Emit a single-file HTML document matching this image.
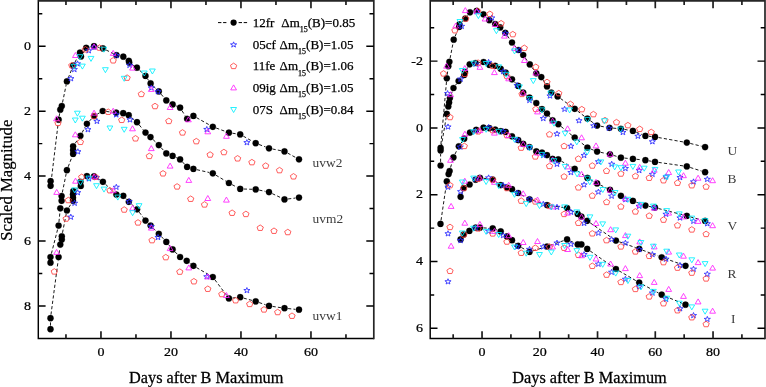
<!DOCTYPE html>
<html><head><meta charset="utf-8"><title>Light curves</title>
<style>html,body{margin:0;padding:0;background:#fff}svg{display:block;will-change:transform}</style></head>
<body>
<svg width="766" height="387" viewBox="0 0 766 387">
<rect width="766" height="387" fill="#fff"/>
<path d="M51.03 182.23L58.17 123.27M59.2 116.15L59.7 113.25M62.53 102.47L66.17 84.93M68.23 78.06L71.87 68.94M74.87 62.41L78.33 55.79M82.85 53.41L84.35 50.89M89.73 47.08L90.47 46.92M97.49 47.06L99.41 47.54M106.12 50L113.18 53.5M132.2 64.59L133.9 65.71M139.51 70.18L142.89 73.42M147.52 78.88L148.58 80.42M153.18 85.91L156.22 88.89M161.1 94.17L164 97.63M175.9 105.85L176.8 106.25M182.02 110.75L185.18 115.75M196.54 117.66L209.66 125.04M216.18 128.04L225.52 131.46M232.46 133.24L236.64 133.86M243.33 136.18L252.57 141.42M259.06 144.49L265.64 147.01M272.53 149.01L280.97 150.69M287.66 153.12L295.84 157.58" fill="none" stroke="#000" stroke-width="0.9" stroke-dasharray="3.2 2.2"/>
<path d="M51.4 253.61L57.7 229.09M58.95 222.02L59.95 211.88M62.32 192.57L66.18 173.73M68.18 166.84L71.82 157.26M75.16 143.34L78.34 138.76M82.11 132.63L85.19 126.97M89.34 121.15L91.66 118.65M97.21 114.19L99.59 112.81M106.27 111.45L112.63 112.25M131.45 117.52L134.25 119.88M139.28 124.99L143.22 129.81M153.09 139.6L156.21 142.6M161.21 147.77L163.89 150.73M175.86 157.42L176.84 157.88M182.56 162.03L184.64 164.27M196.91 169.7L209.29 172.5M215.88 175.16L225.82 181.14M232.09 184.67L237.01 187.23M243.8 189.02L252.1 189.28M259.23 190.12L265.47 191.38M272.26 193.63L281.24 197.87M288.07 198.96L295.43 198.04" fill="none" stroke="#000" stroke-width="0.9" stroke-dasharray="3.2 2.2"/>
<path d="M50.5 325.6L50.5 321.8M50.97 314.63L58.13 260.67M59.09 253.53L59.81 248.17M62.5 232.77L66.2 214.03M68.82 207.45L71.08 203.85M76.28 189.08L77.82 188.02M83.19 179.41L84.21 178.49M97.06 178.19L99.84 179.91M105.51 184.28L113.79 192.12M125.73 198.45L126.37 199.15M131.47 204.21L134.43 206.89M139.25 212.19L143.35 217.71M153.13 228.06L156.27 231.24M161.25 236.44L163.85 239.26M168.62 244.66L170.28 246.64M175.13 251.96L177.57 254.44M189.59 262.95L190.51 263.65M196.52 267.6L209.68 275.2M214.96 279.88L226.74 295.52M232.48 298.02L236.62 297.58M243.67 298.14L252.23 300.46M259.11 302.55L265.59 304.75M272.56 306.43L280.94 307.67M288.08 308.57L295.42 309.33" fill="none" stroke="#000" stroke-width="0.9" stroke-dasharray="3.2 2.2"/>
<g fill="#000" stroke="#000" stroke-width="0.25">
<circle cx="50.6" cy="181.2" r="3.1"/>
<circle cx="50.6" cy="185.8" r="3.1"/>
<circle cx="58.6" cy="119.7" r="3.1"/>
<circle cx="60.3" cy="109.7" r="3.1"/>
<circle cx="61.8" cy="106" r="3.1"/>
<circle cx="66.9" cy="81.4" r="3.1"/>
<circle cx="73.2" cy="65.6" r="3.1"/>
<circle cx="80" cy="52.6" r="3.1"/>
<circle cx="81" cy="56.5" r="3.1"/>
<circle cx="86.2" cy="47.8" r="3.1"/>
<circle cx="94" cy="46.2" r="3.1"/>
<circle cx="102.9" cy="48.4" r="3.1"/>
<circle cx="116.4" cy="55.1" r="3.1"/>
<circle cx="123.3" cy="56.7" r="3.1"/>
<circle cx="128.8" cy="60.8" r="3.1"/>
<circle cx="129.2" cy="62.6" r="3.1"/>
<circle cx="136.9" cy="67.7" r="3.1"/>
<circle cx="145.5" cy="75.9" r="3.1"/>
<circle cx="150.6" cy="83.4" r="3.1"/>
<circle cx="158.8" cy="91.4" r="3.1"/>
<circle cx="166.3" cy="100.4" r="3.1"/>
<circle cx="172.6" cy="104.4" r="3.1"/>
<circle cx="180.1" cy="107.7" r="3.1"/>
<circle cx="187.1" cy="118.8" r="3.1"/>
<circle cx="193.4" cy="115.9" r="3.1"/>
<circle cx="212.8" cy="126.8" r="3.1"/>
<circle cx="228.9" cy="132.7" r="3.1"/>
<circle cx="240.2" cy="134.4" r="3.1"/>
<circle cx="255.7" cy="143.2" r="3.1"/>
<circle cx="269" cy="148.3" r="3.1"/>
<circle cx="284.5" cy="151.4" r="3.1"/>
<circle cx="299" cy="159.3" r="3.1"/>
<circle cx="50.5" cy="262.7" r="3.1"/>
<circle cx="50.5" cy="257.1" r="3.1"/>
<circle cx="58.6" cy="225.6" r="3.1"/>
<circle cx="60.3" cy="208.3" r="3.1"/>
<circle cx="61.6" cy="200.8" r="3.1"/>
<circle cx="61.6" cy="196.1" r="3.1"/>
<circle cx="66.9" cy="170.2" r="3.1"/>
<circle cx="73.1" cy="153.9" r="3.1"/>
<circle cx="73.1" cy="150.1" r="3.1"/>
<circle cx="73.1" cy="146.3" r="3.1"/>
<circle cx="80.4" cy="135.8" r="3.1"/>
<circle cx="86.9" cy="123.8" r="3.1"/>
<circle cx="94.1" cy="116" r="3.1"/>
<circle cx="102.7" cy="111" r="3.1"/>
<circle cx="116.2" cy="112.7" r="3.1"/>
<circle cx="123.2" cy="113.2" r="3.1"/>
<circle cx="128.7" cy="115.2" r="3.1"/>
<circle cx="137" cy="122.2" r="3.1"/>
<circle cx="145.5" cy="132.6" r="3.1"/>
<circle cx="150.5" cy="137.1" r="3.1"/>
<circle cx="158.8" cy="145.1" r="3.1"/>
<circle cx="166.3" cy="153.4" r="3.1"/>
<circle cx="172.6" cy="155.9" r="3.1"/>
<circle cx="180.1" cy="159.4" r="3.1"/>
<circle cx="187.1" cy="166.9" r="3.1"/>
<circle cx="193.4" cy="168.9" r="3.1"/>
<circle cx="212.8" cy="173.3" r="3.1"/>
<circle cx="228.9" cy="183" r="3.1"/>
<circle cx="240.2" cy="188.9" r="3.1"/>
<circle cx="255.7" cy="189.4" r="3.1"/>
<circle cx="269" cy="192.1" r="3.1"/>
<circle cx="284.5" cy="199.4" r="3.1"/>
<circle cx="299" cy="197.6" r="3.1"/>
<circle cx="50.5" cy="329.2" r="3.1"/>
<circle cx="50.5" cy="318.2" r="3.1"/>
<circle cx="58.6" cy="257.1" r="3.1"/>
<circle cx="60.3" cy="244.6" r="3.1"/>
<circle cx="61.8" cy="239.6" r="3.1"/>
<circle cx="61.8" cy="236.3" r="3.1"/>
<circle cx="66.9" cy="210.5" r="3.1"/>
<circle cx="73" cy="200.8" r="3.1"/>
<circle cx="73" cy="197.8" r="3.1"/>
<circle cx="73" cy="194.4" r="3.1"/>
<circle cx="73.3" cy="191.1" r="3.1"/>
<circle cx="80.8" cy="186" r="3.1"/>
<circle cx="80.5" cy="181.8" r="3.1"/>
<circle cx="86.9" cy="176.1" r="3.1"/>
<circle cx="94" cy="176.3" r="3.1"/>
<circle cx="102.9" cy="181.8" r="3.1"/>
<circle cx="116.4" cy="194.6" r="3.1"/>
<circle cx="123.3" cy="195.8" r="3.1"/>
<circle cx="128.8" cy="201.8" r="3.1"/>
<circle cx="137.1" cy="209.3" r="3.1"/>
<circle cx="145.5" cy="220.6" r="3.1"/>
<circle cx="150.6" cy="225.5" r="3.1"/>
<circle cx="158.8" cy="233.8" r="3.1"/>
<circle cx="166.3" cy="241.9" r="3.1"/>
<circle cx="172.6" cy="249.4" r="3.1"/>
<circle cx="180.1" cy="257" r="3.1"/>
<circle cx="186.7" cy="260.8" r="3.1"/>
<circle cx="193.4" cy="265.8" r="3.1"/>
<circle cx="212.8" cy="277" r="3.1"/>
<circle cx="228.9" cy="298.4" r="3.1"/>
<circle cx="240.2" cy="297.2" r="3.1"/>
<circle cx="255.7" cy="301.4" r="3.1"/>
<circle cx="269" cy="305.9" r="3.1"/>
<circle cx="284.5" cy="308.2" r="3.1"/>
<circle cx="299" cy="309.7" r="3.1"/>
</g>
<g fill="none" stroke="#2a2aff" stroke-width="0.85" stroke-linejoin="miter">
<polygon points="151.3,84.95 152.06,86.93 154.39,86.97 152.54,88.24 153.21,90.24 151.3,89.05 149.39,90.24 150.06,88.24 148.21,86.97 150.54,86.93"/>
<polygon points="70.9,75.65 71.66,77.63 73.99,77.67 72.14,78.94 72.81,80.94 70.9,79.75 68.99,80.94 69.66,78.94 67.81,77.67 70.14,77.63"/>
<polygon points="74.3,66.55 75.06,68.53 77.39,68.57 75.54,69.84 76.21,71.84 74.3,70.65 72.39,71.84 73.06,69.84 71.21,68.57 73.54,68.53"/>
<polygon points="77.5,60.85 78.26,62.83 80.59,62.87 78.74,64.14 79.41,66.14 77.5,64.95 75.59,66.14 76.26,64.14 74.41,62.87 76.74,62.83"/>
<polygon points="88.7,47.75 89.46,49.73 91.79,49.77 89.94,51.04 90.61,53.04 88.7,51.85 86.79,53.04 87.46,51.04 85.61,49.77 87.94,49.73"/>
<polygon points="94.4,44.15 95.16,46.13 97.49,46.17 95.64,47.44 96.31,49.44 94.4,48.25 92.49,49.44 93.16,47.44 91.31,46.17 93.64,46.13"/>
<polygon points="116.4,52.55 117.16,54.53 119.49,54.57 117.64,55.84 118.31,57.84 116.4,56.65 114.49,57.84 115.16,55.84 113.31,54.57 115.64,54.53"/>
<polygon points="129.6,62.35 130.36,64.33 132.69,64.37 130.84,65.64 131.51,67.64 129.6,66.45 127.69,67.64 128.36,65.64 126.51,64.37 128.84,64.33"/>
<polygon points="158,88.75 158.76,90.73 161.09,90.77 159.24,92.04 159.91,94.04 158,92.85 156.09,94.04 156.76,92.04 154.91,90.77 157.24,90.73"/>
<polygon points="206.8,126.45 207.56,128.43 209.89,128.47 208.04,129.74 208.71,131.74 206.8,130.55 204.89,131.74 205.56,129.74 203.71,128.47 206.04,128.43"/>
<polygon points="246.9,139.65 247.66,141.63 249.99,141.67 248.14,142.94 248.81,144.94 246.9,143.75 244.99,144.94 245.66,142.94 243.81,141.67 246.14,141.63"/>
<polygon points="77.9,148.75 78.66,150.73 80.99,150.77 79.14,152.04 79.81,154.04 77.9,152.85 75.99,154.04 76.66,152.04 74.81,150.77 77.14,150.73"/>
<polygon points="87.9,126.65 88.66,128.63 90.99,128.67 89.14,129.94 89.81,131.94 87.9,130.75 85.99,131.94 86.66,129.94 84.81,128.67 87.14,128.63"/>
<polygon points="96.9,118.35 97.66,120.33 99.99,120.37 98.14,121.64 98.81,123.64 96.9,122.45 94.99,123.64 95.66,121.64 93.81,120.37 96.14,120.33"/>
<polygon points="116.2,111.85 116.96,113.83 119.29,113.87 117.44,115.14 118.11,117.14 116.2,115.95 114.29,117.14 114.96,115.14 113.11,113.87 115.44,113.83"/>
<polygon points="130,116.85 130.76,118.83 133.09,118.87 131.24,120.14 131.91,122.14 130,120.95 128.09,122.14 128.76,120.14 126.91,118.87 129.24,118.83"/>
<polygon points="70.8,214.15 71.56,216.13 73.89,216.17 72.04,217.44 72.71,219.44 70.8,218.25 68.89,219.44 69.56,217.44 67.71,216.17 70.04,216.13"/>
<polygon points="74.6,200.25 75.36,202.23 77.69,202.27 75.84,203.54 76.51,205.54 74.6,204.35 72.69,205.54 73.36,203.54 71.51,202.27 73.84,202.23"/>
<polygon points="77.7,189.65 78.46,191.63 80.79,191.67 78.94,192.94 79.61,194.94 77.7,193.75 75.79,194.94 76.46,192.94 74.61,191.67 76.94,191.63"/>
<polygon points="88.9,175.85 89.66,177.83 91.99,177.87 90.14,179.14 90.81,181.14 88.9,179.95 86.99,181.14 87.66,179.14 85.81,177.87 88.14,177.83"/>
<polygon points="96.5,174.65 97.26,176.63 99.59,176.67 97.74,177.94 98.41,179.94 96.5,178.75 94.59,179.94 95.26,177.94 93.41,176.67 95.74,176.63"/>
<polygon points="116.3,184.25 117.06,186.23 119.39,186.27 117.54,187.54 118.21,189.54 116.3,188.35 114.39,189.54 115.06,187.54 113.21,186.27 115.54,186.23"/>
<polygon points="129.2,198.55 129.96,200.53 132.29,200.57 130.44,201.84 131.11,203.84 129.2,202.65 127.29,203.84 127.96,201.84 126.11,200.57 128.44,200.53"/>
<polygon points="151.3,223.65 152.06,225.63 154.39,225.67 152.54,226.94 153.21,228.94 151.3,227.75 149.39,228.94 150.06,226.94 148.21,225.67 150.54,225.63"/>
<polygon points="158,234.45 158.76,236.43 161.09,236.47 159.24,237.74 159.91,239.74 158,238.55 156.09,239.74 156.76,237.74 154.91,236.47 157.24,236.43"/>
<polygon points="206.8,273.75 207.56,275.73 209.89,275.77 208.04,277.04 208.71,279.04 206.8,277.85 204.89,279.04 205.56,277.04 203.71,275.77 206.04,275.73"/>
<polygon points="246.9,287.55 247.66,289.53 249.99,289.57 248.14,290.84 248.81,292.84 246.9,291.65 244.99,292.84 245.66,290.84 243.81,289.57 246.14,289.53"/>
</g>
<g fill="none" stroke="#ff4040" stroke-width="0.85">
<polygon points="71.8,62.45 74.94,64.55 73.74,67.94 69.86,67.94 68.66,64.55"/>
<polygon points="85.4,46.55 88.54,48.65 87.34,52.04 83.46,52.04 82.26,48.65"/>
<polygon points="99.5,44.85 102.64,46.95 101.44,50.34 97.56,50.34 96.36,46.95"/>
<polygon points="113.2,57.55 116.34,59.65 115.14,63.04 111.26,63.04 110.06,59.65"/>
<polygon points="127.1,74.85 130.24,76.95 129.04,80.34 125.16,80.34 123.96,76.95"/>
<polygon points="141.3,91.15 144.44,93.25 143.24,96.64 139.36,96.64 138.16,93.25"/>
<polygon points="155,103.25 158.14,105.35 156.94,108.74 153.06,108.74 151.86,105.35"/>
<polygon points="168.8,118.15 171.94,120.25 170.74,123.64 166.86,123.64 165.66,120.25"/>
<polygon points="182.5,129.65 185.64,131.75 184.44,135.14 180.56,135.14 179.36,131.75"/>
<polygon points="196.3,138.35 199.44,140.45 198.24,143.84 194.36,143.84 193.16,140.45"/>
<polygon points="210.1,151.75 213.24,153.85 212.04,157.24 208.16,157.24 206.96,153.85"/>
<polygon points="223.9,149.25 227.04,151.35 225.84,154.74 221.96,154.74 220.76,151.35"/>
<polygon points="237.6,155.55 240.74,157.65 239.54,161.04 235.66,161.04 234.46,157.65"/>
<polygon points="251.9,159.35 255.04,161.45 253.84,164.84 249.96,164.84 248.76,161.45"/>
<polygon points="265.7,162.85 268.84,164.95 267.64,168.34 263.76,168.34 262.56,164.95"/>
<polygon points="279.5,167.35 282.64,169.45 281.44,172.84 277.56,172.84 276.36,169.45"/>
<polygon points="293.5,173.55 296.64,175.65 295.44,179.04 291.56,179.04 290.36,175.65"/>
<polygon points="58,120.05 61.14,122.15 59.94,125.54 56.06,125.54 54.86,122.15"/>
<polygon points="80.4,139.05 83.54,141.15 82.34,144.54 78.46,144.54 77.26,141.15"/>
<polygon points="94.1,113.25 97.24,115.35 96.04,118.74 92.16,118.74 90.96,115.35"/>
<polygon points="108.2,108.95 111.34,111.05 110.14,114.44 106.26,114.44 105.06,111.05"/>
<polygon points="121.7,117.05 124.84,119.15 123.64,122.54 119.76,122.54 118.56,119.15"/>
<polygon points="135.5,135.55 138.64,137.65 137.44,141.04 133.56,141.04 132.36,137.65"/>
<polygon points="149.3,153.15 152.44,155.25 151.24,158.64 147.36,158.64 146.16,155.25"/>
<polygon points="163,170.55 166.14,172.65 164.94,176.04 161.06,176.04 159.86,172.65"/>
<polygon points="177.1,183.65 180.24,185.75 179.04,189.14 175.16,189.14 173.96,185.75"/>
<polygon points="190.7,195.95 193.84,198.05 192.64,201.44 188.76,201.44 187.56,198.05"/>
<polygon points="204.5,201.65 207.64,203.75 206.44,207.14 202.56,207.14 201.36,203.75"/>
<polygon points="232.1,209.95 235.24,212.05 234.04,215.44 230.16,215.44 228.96,212.05"/>
<polygon points="245.9,211.15 249.04,213.25 247.84,216.64 243.96,216.64 242.76,213.25"/>
<polygon points="260.2,224.95 263.34,227.05 262.14,230.44 258.26,230.44 257.06,227.05"/>
<polygon points="274,227.95 277.14,230.05 275.94,233.44 272.06,233.44 270.86,230.05"/>
<polygon points="287.8,229.25 290.94,231.35 289.74,234.74 285.86,234.74 284.66,231.35"/>
<polygon points="54.3,268.65 57.44,270.75 56.24,274.14 52.36,274.14 51.16,270.75"/>
<polygon points="66.1,215.75 69.24,217.85 68.04,221.24 64.16,221.24 62.96,217.85"/>
<polygon points="68.3,197.25 71.44,199.35 70.24,202.74 66.36,202.74 65.16,199.35"/>
<polygon points="81.7,174.05 84.84,176.15 83.64,179.54 79.76,179.54 78.56,176.15"/>
<polygon points="95.6,174.05 98.74,176.15 97.54,179.54 93.66,179.54 92.46,176.15"/>
<polygon points="109.9,187.45 113.04,189.55 111.84,192.94 107.96,192.94 106.76,189.55"/>
<polygon points="124.2,206.75 127.34,208.85 126.14,212.24 122.26,212.24 121.06,208.85"/>
<polygon points="138,219.65 141.14,221.75 139.94,225.14 136.06,225.14 134.86,221.75"/>
<polygon points="152,237.35 155.14,239.45 153.94,242.84 150.06,242.84 148.86,239.45"/>
<polygon points="165.8,254.35 168.94,256.45 167.74,259.84 163.86,259.84 162.66,256.45"/>
<polygon points="179.8,268.85 182.94,270.95 181.74,274.34 177.86,274.34 176.66,270.95"/>
<polygon points="193.9,278.45 197.04,280.55 195.84,283.94 191.96,283.94 190.76,280.55"/>
<polygon points="207.8,285.95 210.94,288.05 209.74,291.44 205.86,291.44 204.66,288.05"/>
<polygon points="221.8,291.25 224.94,293.35 223.74,296.74 219.86,296.74 218.66,293.35"/>
<polygon points="235.6,297.45 238.74,299.55 237.54,302.94 233.66,302.94 232.46,299.55"/>
<polygon points="249.7,301.15 252.84,303.25 251.64,306.64 247.76,306.64 246.56,303.25"/>
<polygon points="264,306.65 267.14,308.75 265.94,312.14 262.06,312.14 260.86,308.75"/>
<polygon points="277.7,309.25 280.84,311.35 279.64,314.74 275.76,314.74 274.56,311.35"/>
<polygon points="292,312.95 295.14,315.05 293.94,318.44 290.06,318.44 288.86,315.05"/>
</g>
<g fill="none" stroke="#ff20ff" stroke-width="0.85">
<polygon points="56.7,189.4 53.8,194.4 59.6,194.4"/>
<polygon points="75.4,52.5 72.5,57.5 78.3,57.5"/>
<polygon points="94,43.8 91.1,48.8 96.9,48.8"/>
<polygon points="113.2,50.4 110.3,55.4 116.1,55.4"/>
<polygon points="132.5,65.1 129.6,70.1 135.4,70.1"/>
<polygon points="151.3,86.4 148.4,91.4 154.2,91.4"/>
<polygon points="170.1,104.5 167.2,109.5 173,109.5"/>
<polygon points="188.4,116.8 185.5,121.8 191.3,121.8"/>
<polygon points="207.8,128.8 204.9,133.8 210.7,133.8"/>
<polygon points="226.4,133.3 223.5,138.3 229.3,138.3"/>
<polygon points="56.5,115.8 53.6,120.8 59.4,120.8"/>
<polygon points="75.3,131.8 72.4,136.8 78.2,136.8"/>
<polygon points="94.1,110.2 91.2,115.2 97,115.2"/>
<polygon points="113.2,108.2 110.3,113.2 116.1,113.2"/>
<polygon points="132.5,125.8 129.6,130.8 135.4,130.8"/>
<polygon points="151.3,145.6 148.4,150.6 154.2,150.6"/>
<polygon points="170.1,163.1 167.2,168.1 173,168.1"/>
<polygon points="188.8,177.4 185.9,182.4 191.7,182.4"/>
<polygon points="207.8,195.5 204.9,200.5 210.7,200.5"/>
<polygon points="226.4,197.1 223.5,202.1 229.3,202.1"/>
<polygon points="56.6,249.4 53.7,254.4 59.5,254.4"/>
<polygon points="75.5,178.2 72.6,183.2 78.4,183.2"/>
<polygon points="94,173.8 91.1,178.8 96.9,178.8"/>
<polygon points="113.3,187.7 110.4,192.7 116.2,192.7"/>
<polygon points="132.6,205.2 129.7,210.2 135.5,210.2"/>
<polygon points="151.3,225.1 148.4,230.1 154.2,230.1"/>
<polygon points="170.1,245.6 167.2,250.6 173,250.6"/>
<polygon points="188.8,264.9 185.9,269.9 191.7,269.9"/>
<polygon points="207.8,273.9 204.9,278.9 210.7,278.9"/>
<polygon points="226.4,292.5 223.5,297.5 229.3,297.5"/>
</g>
<g fill="none" stroke="#00f0ff" stroke-width="0.85">
<polygon points="74.2,69.3 71.3,64.3 77.1,64.3"/>
<polygon points="80,59.7 77.1,54.7 82.9,54.7"/>
<polygon points="82.4,69.1 79.5,64.1 85.3,64.1"/>
<polygon points="91,61.4 88.1,56.4 93.9,56.4"/>
<polygon points="103.8,52.2 100.9,47.2 106.7,47.2"/>
<polygon points="105.4,72.7 102.5,67.7 108.3,67.7"/>
<polygon points="124.2,81.3 121.3,76.3 127.1,76.3"/>
<polygon points="144.3,76 141.4,71 147.2,71"/>
<polygon points="152.4,74 149.5,69 155.3,69"/>
<polygon points="77.4,116.2 74.5,111.2 80.3,111.2"/>
<polygon points="75.3,123 72.4,118 78.2,118"/>
<polygon points="82.4,121.2 79.5,116.2 85.3,116.2"/>
<polygon points="109.9,131 107,126 112.8,126"/>
<polygon points="124.2,132.3 121.3,127.3 127.1,127.3"/>
<polygon points="74.6,192.9 71.7,187.9 77.5,187.9"/>
<polygon points="80.5,185.3 77.6,180.3 83.4,180.3"/>
<polygon points="88.9,181.1 86,176.1 91.8,176.1"/>
<polygon points="96.5,188.7 93.6,183.7 99.4,183.7"/>
<polygon points="104,192.1 101.1,187.1 106.9,187.1"/>
<polygon points="117.8,200.1 114.9,195.1 120.7,195.1"/>
<polygon points="132.6,215.7 129.7,210.7 135.5,210.7"/>
<polygon points="139.1,208.7 136.2,203.7 142,203.7"/>
</g>
<path d="M440.92 144.21L446.48 81.89M447.24 74.73L447.86 69.77M450.09 58.27L453.01 43.23M455.1 36.38L457.7 30.22M461.95 21.85L462.75 21.05M467.47 15.63L467.83 15.17M485.95 16.85L486.75 17.65M507.35 35.76L509.95 39.54M514.36 45.22L516.14 47.28M525.27 57.95L527.73 61.45M531.92 67.31L534.18 70.39M543.18 80.17L545.12 83.33M560.51 98.51L571.79 106.69M577.55 111L584.55 116.4M590.32 120.71L594.18 123.49M600.64 126.23L605.96 127.17M613.09 128.11L617.31 128.49M624.45 129.42L629.35 130.28M636.24 132.24L642.06 134.56M648.98 136.27L651.42 136.53M658.54 137.54L683.26 141.96M690.3 143.46L701.6 146.24" fill="none" stroke="#000" stroke-width="0.9" stroke-dasharray="3.2 2.2"/>
<path d="M440.6 161.9L440.6 154M441.2 146.85L446.2 117.45M451.12 94.61L452.28 91.39M455.62 85.09L456.48 83.91M461.06 78.37L461.74 77.63M466.88 68.93L467.82 67.37M479.17 62.55L480.03 62.45M508.17 75.22L509.53 76.68M514.46 81.92L515.74 83.28M520.35 88.79L521.05 89.71M526.02 94.84L526.68 95.36M532.32 99.84L533.48 100.76M538.76 105.63L539.54 106.47M549.29 116.28L550.31 117.52M561.09 126.48L571.91 135.32M577.53 139.83L584.57 145.37M590.73 148.97L593.77 150.23M600.62 152.34L606.48 153.56M613.44 155.37L617.46 156.63M624.48 158.06L629.32 158.54M636.48 159.27L641.82 159.83M648.94 160.83L651.46 161.27M658.56 162.4L683.24 165.9M690.23 167.49L701.67 171.11" fill="none" stroke="#000" stroke-width="0.9" stroke-dasharray="3.2 2.2"/>
<path d="M441.03 220.34L446.27 184.96M450.57 167.53L452.43 160.87M454.97 154.16L457.23 149.54M460.89 143.37L462.11 141.63M466.68 136.09L467.52 135.21M532.54 149.02L533.26 149.48M561.42 161.19L571.58 167.01M577.63 170.9L584.47 175.8M590.53 179.68L593.97 181.62M600.32 185L606.78 188.2M613.15 191.54L617.75 194.06M624.21 197.21L629.59 199.49M636.27 202.17L642.03 204.33M648.92 206.33L651.48 206.87M658.48 208.51L683.32 214.99M690.27 216.85L701.63 219.95" fill="none" stroke="#000" stroke-width="0.9" stroke-dasharray="3.2 2.2"/>
<path d="M461.83 193.42L462.57 191.38M483.47 178.27L489.13 179.03M495.65 181.56L497.75 183.04M521.34 194.75L526.36 197.55M532.92 200.43L543.58 203.97M550.56 205.63L563.54 207.57M570.26 209.83L574.54 212.17M590.16 222.84L612.94 238.56M619.29 241.81L635.81 247.69M642.57 250.16L658.33 256.04M665.09 258.51L682.11 264.59" fill="none" stroke="#000" stroke-width="0.9" stroke-dasharray="3.2 2.2"/>
<path d="M483.49 227.9L489.11 228.2M496.07 229.66L497.33 230.14M503.5 233.66L504.1 234.14M514.67 242.61L515.53 243.39M521.37 247.51L526.33 250.19M532.94 250.84L543.56 247.56M550.39 245.3L563.71 240.6M570.36 240.94L574.44 242.86M590.15 250.97L612.95 266.93M619.01 270.81L636.09 280.79M642.37 284.31L658.53 292.99M665.02 296.09L682.18 303.31" fill="none" stroke="#000" stroke-width="0.9" stroke-dasharray="3.2 2.2"/>
<g fill="#000" stroke="#000" stroke-width="0.25">
<circle cx="440.6" cy="147.8" r="3.1"/>
<circle cx="446.8" cy="78.3" r="3.1"/>
<circle cx="448.3" cy="66.2" r="3.1"/>
<circle cx="449.4" cy="61.8" r="3.1"/>
<circle cx="453.7" cy="39.7" r="3.1"/>
<circle cx="459.1" cy="26.9" r="3.1"/>
<circle cx="459.4" cy="24.4" r="3.1"/>
<circle cx="465.3" cy="18.5" r="3.1"/>
<circle cx="470" cy="12.3" r="3.1"/>
<circle cx="476.7" cy="10.9" r="3.1"/>
<circle cx="483.4" cy="14.3" r="3.1"/>
<circle cx="489.3" cy="20.2" r="3.1"/>
<circle cx="495.2" cy="24" r="3.1"/>
<circle cx="500.2" cy="27.4" r="3.1"/>
<circle cx="505.3" cy="32.8" r="3.1"/>
<circle cx="512" cy="42.5" r="3.1"/>
<circle cx="518.5" cy="50" r="3.1"/>
<circle cx="523.2" cy="55" r="3.1"/>
<circle cx="529.8" cy="64.4" r="3.1"/>
<circle cx="536.3" cy="73.3" r="3.1"/>
<circle cx="541.3" cy="77.1" r="3.1"/>
<circle cx="547" cy="86.4" r="3.1"/>
<circle cx="551.3" cy="92.6" r="3.1"/>
<circle cx="557.6" cy="96.4" r="3.1"/>
<circle cx="574.7" cy="108.8" r="3.1"/>
<circle cx="587.4" cy="118.6" r="3.1"/>
<circle cx="597.1" cy="125.6" r="3.1"/>
<circle cx="609.5" cy="127.8" r="3.1"/>
<circle cx="620.9" cy="128.8" r="3.1"/>
<circle cx="632.9" cy="130.9" r="3.1"/>
<circle cx="645.4" cy="135.9" r="3.1"/>
<circle cx="655" cy="136.9" r="3.1"/>
<circle cx="686.8" cy="142.6" r="3.1"/>
<circle cx="705.1" cy="147.1" r="3.1"/>
<circle cx="440.6" cy="165.5" r="3.1"/>
<circle cx="440.6" cy="150.4" r="3.1"/>
<circle cx="446.8" cy="113.9" r="3.1"/>
<circle cx="448.3" cy="106.5" r="3.1"/>
<circle cx="449.1" cy="102.5" r="3.1"/>
<circle cx="449.9" cy="98" r="3.1"/>
<circle cx="453.5" cy="88" r="3.1"/>
<circle cx="458.6" cy="81" r="3.1"/>
<circle cx="464.2" cy="75" r="3.1"/>
<circle cx="465" cy="72" r="3.1"/>
<circle cx="469.7" cy="64.3" r="3.1"/>
<circle cx="475.6" cy="63" r="3.1"/>
<circle cx="483.6" cy="62" r="3.1"/>
<circle cx="489.4" cy="65" r="3.1"/>
<circle cx="495.2" cy="65.8" r="3.1"/>
<circle cx="500.7" cy="68.8" r="3.1"/>
<circle cx="505.7" cy="72.6" r="3.1"/>
<circle cx="512" cy="79.3" r="3.1"/>
<circle cx="518.2" cy="85.9" r="3.1"/>
<circle cx="523.2" cy="92.6" r="3.1"/>
<circle cx="529.5" cy="97.6" r="3.1"/>
<circle cx="536.3" cy="103" r="3.1"/>
<circle cx="542" cy="109.1" r="3.1"/>
<circle cx="547" cy="113.5" r="3.1"/>
<circle cx="552.6" cy="120.3" r="3.1"/>
<circle cx="558.3" cy="124.2" r="3.1"/>
<circle cx="574.7" cy="137.6" r="3.1"/>
<circle cx="587.4" cy="147.6" r="3.1"/>
<circle cx="597.1" cy="151.6" r="3.1"/>
<circle cx="610" cy="154.3" r="3.1"/>
<circle cx="620.9" cy="157.7" r="3.1"/>
<circle cx="632.9" cy="158.9" r="3.1"/>
<circle cx="645.4" cy="160.2" r="3.1"/>
<circle cx="655" cy="161.9" r="3.1"/>
<circle cx="686.8" cy="166.4" r="3.1"/>
<circle cx="705.1" cy="172.2" r="3.1"/>
<circle cx="440.5" cy="223.9" r="3.1"/>
<circle cx="446.8" cy="181.4" r="3.1"/>
<circle cx="448.6" cy="174.1" r="3.1"/>
<circle cx="449.6" cy="171" r="3.1"/>
<circle cx="453.4" cy="157.4" r="3.1"/>
<circle cx="458.8" cy="146.3" r="3.1"/>
<circle cx="464.2" cy="138.7" r="3.1"/>
<circle cx="470" cy="132.6" r="3.1"/>
<circle cx="476.2" cy="129.8" r="3.1"/>
<circle cx="483.5" cy="127.7" r="3.1"/>
<circle cx="489.4" cy="128.2" r="3.1"/>
<circle cx="495.2" cy="129.6" r="3.1"/>
<circle cx="500.7" cy="131.2" r="3.1"/>
<circle cx="505.7" cy="131.9" r="3.1"/>
<circle cx="512" cy="136.3" r="3.1"/>
<circle cx="518.2" cy="140.1" r="3.1"/>
<circle cx="523.2" cy="143.9" r="3.1"/>
<circle cx="529.5" cy="147.1" r="3.1"/>
<circle cx="536.3" cy="151.4" r="3.1"/>
<circle cx="542" cy="152.6" r="3.1"/>
<circle cx="547" cy="155.1" r="3.1"/>
<circle cx="552.6" cy="158.9" r="3.1"/>
<circle cx="558.3" cy="159.4" r="3.1"/>
<circle cx="574.7" cy="168.8" r="3.1"/>
<circle cx="587.4" cy="177.9" r="3.1"/>
<circle cx="597.1" cy="183.4" r="3.1"/>
<circle cx="610" cy="189.8" r="3.1"/>
<circle cx="620.9" cy="195.8" r="3.1"/>
<circle cx="632.9" cy="200.9" r="3.1"/>
<circle cx="645.4" cy="205.6" r="3.1"/>
<circle cx="655" cy="207.6" r="3.1"/>
<circle cx="686.8" cy="215.9" r="3.1"/>
<circle cx="705.1" cy="220.9" r="3.1"/>
<circle cx="460.6" cy="196.8" r="3.1"/>
<circle cx="463.8" cy="188" r="3.1"/>
<circle cx="469.6" cy="184.5" r="3.1"/>
<circle cx="475.6" cy="179.7" r="3.1"/>
<circle cx="479.9" cy="177.8" r="3.1"/>
<circle cx="492.7" cy="179.5" r="3.1"/>
<circle cx="500.7" cy="185.1" r="3.1"/>
<circle cx="506.9" cy="187.6" r="3.1"/>
<circle cx="512" cy="189.2" r="3.1"/>
<circle cx="518.2" cy="193" r="3.1"/>
<circle cx="529.5" cy="199.3" r="3.1"/>
<circle cx="547" cy="205.1" r="3.1"/>
<circle cx="567.1" cy="208.1" r="3.1"/>
<circle cx="577.7" cy="213.9" r="3.1"/>
<circle cx="581.4" cy="216.6" r="3.1"/>
<circle cx="587.2" cy="220.8" r="3.1"/>
<circle cx="615.9" cy="240.6" r="3.1"/>
<circle cx="639.2" cy="248.9" r="3.1"/>
<circle cx="661.7" cy="257.3" r="3.1"/>
<circle cx="685.5" cy="265.8" r="3.1"/>
<circle cx="460.6" cy="239.4" r="3.1"/>
<circle cx="463.8" cy="234.4" r="3.1"/>
<circle cx="469.4" cy="230.9" r="3.1"/>
<circle cx="475.6" cy="227.7" r="3.1"/>
<circle cx="479.9" cy="227.7" r="3.1"/>
<circle cx="492.7" cy="228.4" r="3.1"/>
<circle cx="500.7" cy="231.4" r="3.1"/>
<circle cx="506.9" cy="236.4" r="3.1"/>
<circle cx="512" cy="240.2" r="3.1"/>
<circle cx="518.2" cy="245.8" r="3.1"/>
<circle cx="529.5" cy="251.9" r="3.1"/>
<circle cx="547" cy="246.5" r="3.1"/>
<circle cx="567.1" cy="239.4" r="3.1"/>
<circle cx="577.7" cy="244.4" r="3.1"/>
<circle cx="581.4" cy="244.4" r="3.1"/>
<circle cx="587.2" cy="248.9" r="3.1"/>
<circle cx="615.9" cy="269" r="3.1"/>
<circle cx="639.2" cy="282.6" r="3.1"/>
<circle cx="661.7" cy="294.7" r="3.1"/>
<circle cx="685.5" cy="304.7" r="3.1"/>
</g>
<g fill="none" stroke="#2a2aff" stroke-width="0.85" stroke-linejoin="miter">
<polygon points="461.6,23.35 462.36,25.33 464.69,25.37 462.84,26.64 463.51,28.64 461.6,27.45 459.69,28.64 460.36,26.64 458.51,25.37 460.84,25.33"/>
<polygon points="476.7,8.75 477.46,10.73 479.79,10.77 477.94,12.04 478.61,14.04 476.7,12.85 474.79,14.04 475.46,12.04 473.61,10.77 475.94,10.73"/>
<polygon points="491.8,14.95 492.56,16.93 494.89,16.97 493.04,18.24 493.71,20.24 491.8,19.05 489.89,20.24 490.56,18.24 488.71,16.97 491.04,16.93"/>
<polygon points="505.3,30.45 506.06,32.43 508.39,32.47 506.54,33.74 507.21,35.74 505.3,34.55 503.39,35.74 504.06,33.74 502.21,32.47 504.54,32.43"/>
<polygon points="519.3,47.35 520.06,49.33 522.39,49.37 520.54,50.64 521.21,52.64 519.3,51.45 517.39,52.64 518.06,50.64 516.21,49.37 518.54,49.33"/>
<polygon points="550,92.95 550.76,94.93 553.09,94.97 551.24,96.24 551.91,98.24 550,97.05 548.09,98.24 548.76,96.24 546.91,94.97 549.24,94.93"/>
<polygon points="564.6,106.25 565.36,108.23 567.69,108.27 565.84,109.54 566.51,111.54 564.6,110.35 562.69,111.54 563.36,109.54 561.51,108.27 563.84,108.23"/>
<polygon points="579,117.75 579.76,119.73 582.09,119.77 580.24,121.04 580.91,123.04 579,121.85 577.09,123.04 577.76,121.04 575.91,119.77 578.24,119.73"/>
<polygon points="593.7,122.85 594.46,124.83 596.79,124.87 594.94,126.14 595.61,128.14 593.7,126.95 591.79,128.14 592.46,126.14 590.61,124.87 592.94,124.83"/>
<polygon points="609,125.25 609.76,127.23 612.09,127.27 610.24,128.54 610.91,130.54 609,129.35 607.09,130.54 607.76,128.54 605.91,127.27 608.24,127.23"/>
<polygon points="622.9,129.45 623.66,131.43 625.99,131.47 624.14,132.74 624.81,134.74 622.9,133.55 620.99,134.74 621.66,132.74 619.81,131.47 622.14,131.43"/>
<polygon points="637.9,133.25 638.66,135.23 640.99,135.27 639.14,136.54 639.81,138.54 637.9,137.35 635.99,138.54 636.66,136.54 634.81,135.27 637.14,135.23"/>
<polygon points="652.4,138.75 653.16,140.73 655.49,140.77 653.64,142.04 654.31,144.04 652.4,142.85 650.49,144.04 651.16,142.04 649.31,140.77 651.64,140.73"/>
<polygon points="447.6,90.55 448.36,92.53 450.69,92.57 448.84,93.84 449.51,95.84 447.6,94.65 445.69,95.84 446.36,93.84 444.51,92.57 446.84,92.53"/>
<polygon points="448,123.95 448.76,125.93 451.09,125.97 449.24,127.24 449.91,129.24 448,128.05 446.09,129.24 446.76,127.24 444.91,125.97 447.24,125.93"/>
<polygon points="448,184.25 448.76,186.23 451.09,186.27 449.24,187.54 449.91,189.54 448,188.35 446.09,189.54 446.76,187.54 444.91,186.27 447.24,186.23"/>
<polygon points="448,230.75 448.76,232.73 451.09,232.77 449.24,234.04 449.91,236.04 448,234.85 446.09,236.04 446.76,234.04 444.91,232.77 447.24,232.73"/>
<polygon points="448,278.75 448.76,280.73 451.09,280.77 449.24,282.04 449.91,284.04 448,282.85 446.09,284.04 446.76,282.04 444.91,280.77 447.24,280.73"/>
<polygon points="460.6,76.15 461.36,78.13 463.69,78.17 461.84,79.44 462.51,81.44 460.6,80.25 458.69,81.44 459.36,79.44 457.51,78.17 459.84,78.13"/>
<polygon points="475.6,61.15 476.36,63.13 478.69,63.17 476.84,64.44 477.51,66.44 475.6,65.25 473.69,66.44 474.36,64.44 472.51,63.17 474.84,63.13"/>
<polygon points="488.6,59.35 489.36,61.33 491.69,61.37 489.84,62.64 490.51,64.64 488.6,63.45 486.69,64.64 487.36,62.64 485.51,61.37 487.84,61.33"/>
<polygon points="503.2,68.65 503.96,70.63 506.29,70.67 504.44,71.94 505.11,73.94 503.2,72.75 501.29,73.94 501.96,71.94 500.11,70.67 502.44,70.63"/>
<polygon points="517,82.45 517.76,84.43 520.09,84.47 518.24,85.74 518.91,87.74 517,86.55 515.09,87.74 515.76,85.74 513.91,84.47 516.24,84.43"/>
<polygon points="529.5,97.45 530.26,99.43 532.59,99.47 530.74,100.74 531.41,102.74 529.5,101.55 527.59,102.74 528.26,100.74 526.41,99.47 528.74,99.43"/>
<polygon points="543.3,115.55 544.06,117.53 546.39,117.57 544.54,118.84 545.21,120.84 543.3,119.65 541.39,120.84 542.06,118.84 540.21,117.57 542.54,117.53"/>
<polygon points="557,130.95 557.76,132.93 560.09,132.97 558.24,134.24 558.91,136.24 557,135.05 555.09,136.24 555.76,134.24 553.91,132.97 556.24,132.93"/>
<polygon points="570.9,143.25 571.66,145.23 573.99,145.27 572.14,146.54 572.81,148.54 570.9,147.35 568.99,148.54 569.66,146.54 567.81,145.27 570.14,145.23"/>
<polygon points="584.1,152.45 584.86,154.43 587.19,154.47 585.34,155.74 586.01,157.74 584.1,156.55 582.19,157.74 582.86,155.74 581.01,154.47 583.34,154.43"/>
<polygon points="598.4,158.75 599.16,160.73 601.49,160.77 599.64,162.04 600.31,164.04 598.4,162.85 596.49,164.04 597.16,162.04 595.31,160.77 597.64,160.73"/>
<polygon points="611.7,161.25 612.46,163.23 614.79,163.27 612.94,164.54 613.61,166.54 611.7,165.35 609.79,166.54 610.46,164.54 608.61,163.27 610.94,163.23"/>
<polygon points="625.4,165.55 626.16,167.53 628.49,167.57 626.64,168.84 627.31,170.84 625.4,169.65 623.49,170.84 624.16,168.84 622.31,167.57 624.64,167.53"/>
<polygon points="639.2,167.55 639.96,169.53 642.29,169.57 640.44,170.84 641.11,172.84 639.2,171.65 637.29,172.84 637.96,170.84 636.11,169.57 638.44,169.53"/>
<polygon points="652.4,171.35 653.16,173.33 655.49,173.37 653.64,174.64 654.31,176.64 652.4,175.45 650.49,176.64 651.16,174.64 649.31,173.37 651.64,173.33"/>
<polygon points="666,173.85 666.76,175.83 669.09,175.87 667.24,177.14 667.91,179.14 666,177.95 664.09,179.14 664.76,177.14 662.91,175.87 665.24,175.83"/>
<polygon points="680,174.55 680.76,176.53 683.09,176.57 681.24,177.84 681.91,179.84 680,178.65 678.09,179.84 678.76,177.84 676.91,176.57 679.24,176.53"/>
<polygon points="693.5,178.85 694.26,180.83 696.59,180.87 694.74,182.14 695.41,184.14 693.5,182.95 691.59,184.14 692.26,182.14 690.41,180.87 692.74,180.83"/>
<polygon points="707.3,176.35 708.06,178.33 710.39,178.37 708.54,179.64 709.21,181.64 707.3,180.45 705.39,181.64 706.06,179.64 704.21,178.37 706.54,178.33"/>
<polygon points="460.3,144.05 461.06,146.03 463.39,146.07 461.54,147.34 462.21,149.34 460.3,148.15 458.39,149.34 459.06,147.34 457.21,146.07 459.54,146.03"/>
<polygon points="475.6,128.15 476.36,130.13 478.69,130.17 476.84,131.44 477.51,133.44 475.6,132.25 473.69,133.44 474.36,131.44 472.51,130.17 474.84,130.13"/>
<polygon points="488.6,124.45 489.36,126.43 491.69,126.47 489.84,127.74 490.51,129.74 488.6,128.55 486.69,129.74 487.36,127.74 485.51,126.47 487.84,126.43"/>
<polygon points="503.2,128.65 503.96,130.63 506.29,130.67 504.44,131.94 505.11,133.94 503.2,132.75 501.29,133.94 501.96,131.94 500.11,130.67 502.44,130.63"/>
<polygon points="517,136.95 517.76,138.93 520.09,138.97 518.24,140.24 518.91,142.24 517,141.05 515.09,142.24 515.76,140.24 513.91,138.97 516.24,138.93"/>
<polygon points="529.5,144.45 530.26,146.43 532.59,146.47 530.74,147.74 531.41,149.74 529.5,148.55 527.59,149.74 528.26,147.74 526.41,146.47 528.74,146.43"/>
<polygon points="543.3,152.45 544.06,154.43 546.39,154.47 544.54,155.74 545.21,157.74 543.3,156.55 541.39,157.74 542.06,155.74 540.21,154.47 542.54,154.43"/>
<polygon points="557,161.25 557.76,163.23 560.09,163.27 558.24,164.54 558.91,166.54 557,165.35 555.09,166.54 555.76,164.54 553.91,163.27 556.24,163.23"/>
<polygon points="570.9,169.55 571.66,171.53 573.99,171.57 572.14,172.84 572.81,174.84 570.9,173.65 568.99,174.84 569.66,172.84 567.81,171.57 570.14,171.53"/>
<polygon points="584.1,181.85 584.86,183.83 587.19,183.87 585.34,185.14 586.01,187.14 584.1,185.95 582.19,187.14 582.86,185.14 581.01,183.87 583.34,183.83"/>
<polygon points="598.4,189.05 599.16,191.03 601.49,191.07 599.64,192.34 600.31,194.34 598.4,193.15 596.49,194.34 597.16,192.34 595.31,191.07 597.64,191.03"/>
<polygon points="611.6,193.15 612.36,195.13 614.69,195.17 612.84,196.44 613.51,198.44 611.6,197.25 609.69,198.44 610.36,196.44 608.51,195.17 610.84,195.13"/>
<polygon points="625.4,196.65 626.16,198.63 628.49,198.67 626.64,199.94 627.31,201.94 625.4,200.75 623.49,201.94 624.16,199.94 622.31,198.67 624.64,198.63"/>
<polygon points="639.2,203.25 639.96,205.23 642.29,205.27 640.44,206.54 641.11,208.54 639.2,207.35 637.29,208.54 637.96,206.54 636.11,205.27 638.44,205.23"/>
<polygon points="654,204.95 654.76,206.93 657.09,206.97 655.24,208.24 655.91,210.24 654,209.05 652.09,210.24 652.76,208.24 650.91,206.97 653.24,206.93"/>
<polygon points="666,211.25 666.76,213.23 669.09,213.27 667.24,214.54 667.91,216.54 666,215.35 664.09,216.54 664.76,214.54 662.91,213.27 665.24,213.23"/>
<polygon points="680,214.95 680.76,216.93 683.09,216.97 681.24,218.24 681.91,220.24 680,219.05 678.09,220.24 678.76,218.24 676.91,216.97 679.24,216.93"/>
<polygon points="693.5,218.25 694.26,220.23 696.59,220.27 694.74,221.54 695.41,223.54 693.5,222.35 691.59,223.54 692.26,221.54 690.41,220.27 692.74,220.23"/>
<polygon points="707.3,220.75 708.06,222.73 710.39,222.77 708.54,224.04 709.21,226.04 707.3,224.85 705.39,226.04 706.06,224.04 704.21,222.77 706.54,222.73"/>
<polygon points="460.6,188.65 461.36,190.63 463.69,190.67 461.84,191.94 462.51,193.94 460.6,192.75 458.69,193.94 459.36,191.94 457.51,190.67 459.84,190.63"/>
<polygon points="475.6,176.15 476.36,178.13 478.69,178.17 476.84,179.44 477.51,181.44 475.6,180.25 473.69,181.44 474.36,179.44 472.51,178.17 474.84,178.13"/>
<polygon points="488.6,174.85 489.36,176.83 491.69,176.87 489.84,178.14 490.51,180.14 488.6,178.95 486.69,180.14 487.36,178.14 485.51,176.87 487.84,176.83"/>
<polygon points="503.2,182.45 503.96,184.43 506.29,184.47 504.44,185.74 505.11,187.74 503.2,186.55 501.29,187.74 501.96,185.74 500.11,184.47 502.44,184.43"/>
<polygon points="517,189.95 517.76,191.93 520.09,191.97 518.24,193.24 518.91,195.24 517,194.05 515.09,195.24 515.76,193.24 513.91,191.97 516.24,191.93"/>
<polygon points="529.5,196.25 530.26,198.23 532.59,198.27 530.74,199.54 531.41,201.54 529.5,200.35 527.59,201.54 528.26,199.54 526.41,198.27 528.74,198.23"/>
<polygon points="543.3,201.25 544.06,203.23 546.39,203.27 544.54,204.54 545.21,206.54 543.3,205.35 541.39,206.54 542.06,204.54 540.21,203.27 542.54,203.23"/>
<polygon points="557,204.25 557.76,206.23 560.09,206.27 558.24,207.54 558.91,209.54 557,208.35 555.09,209.54 555.76,207.54 553.91,206.27 556.24,206.23"/>
<polygon points="570.9,209.25 571.66,211.23 573.99,211.27 572.14,212.54 572.81,214.54 570.9,213.35 568.99,214.54 569.66,212.54 567.81,211.27 570.14,211.23"/>
<polygon points="584.1,220.35 584.86,222.33 587.19,222.37 585.34,223.64 586.01,225.64 584.1,224.45 582.19,225.64 582.86,223.64 581.01,222.37 583.34,222.33"/>
<polygon points="598.4,230.15 599.16,232.13 601.49,232.17 599.64,233.44 600.31,235.44 598.4,234.25 596.49,235.44 597.16,233.44 595.31,232.17 597.64,232.13"/>
<polygon points="611.6,236.55 612.36,238.53 614.69,238.57 612.84,239.84 613.51,241.84 611.6,240.65 609.69,241.84 610.36,239.84 608.51,238.57 610.84,238.53"/>
<polygon points="625.4,240.15 626.16,242.13 628.49,242.17 626.64,243.44 627.31,245.44 625.4,244.25 623.49,245.44 624.16,243.44 622.31,242.17 624.64,242.13"/>
<polygon points="639.2,246.65 639.96,248.63 642.29,248.67 640.44,249.94 641.11,251.94 639.2,250.75 637.29,251.94 637.96,249.94 636.11,248.67 638.44,248.63"/>
<polygon points="652.4,251.55 653.16,253.53 655.49,253.57 653.64,254.84 654.31,256.84 652.4,255.65 650.49,256.84 651.16,254.84 649.31,253.57 651.64,253.53"/>
<polygon points="666,256.15 666.76,258.13 669.09,258.17 667.24,259.44 667.91,261.44 666,260.25 664.09,261.44 664.76,259.44 662.91,258.17 665.24,258.13"/>
<polygon points="680,262.45 680.76,264.43 683.09,264.47 681.24,265.74 681.91,267.74 680,266.55 678.09,267.74 678.76,265.74 676.91,264.47 679.24,264.43"/>
<polygon points="693.5,266.15 694.26,268.13 696.59,268.17 694.74,269.44 695.41,271.44 693.5,270.25 691.59,271.44 692.26,269.44 690.41,268.17 692.74,268.13"/>
<polygon points="707.3,271.25 708.06,273.23 710.39,273.27 708.54,274.54 709.21,276.54 707.3,275.35 705.39,276.54 706.06,274.54 704.21,273.27 706.54,273.23"/>
<polygon points="460.6,237.55 461.36,239.53 463.69,239.57 461.84,240.84 462.51,242.84 460.6,241.65 458.69,242.84 459.36,240.84 457.51,239.57 459.84,239.53"/>
<polygon points="475.6,225.05 476.36,227.03 478.69,227.07 476.84,228.34 477.51,230.34 475.6,229.15 473.69,230.34 474.36,228.34 472.51,227.07 474.84,227.03"/>
<polygon points="488.6,228.25 489.36,230.23 491.69,230.27 489.84,231.54 490.51,233.54 488.6,232.35 486.69,233.54 487.36,231.54 485.51,230.27 487.84,230.23"/>
<polygon points="503.2,232.55 503.96,234.53 506.29,234.57 504.44,235.84 505.11,237.84 503.2,236.65 501.29,237.84 501.96,235.84 500.11,234.57 502.44,234.53"/>
<polygon points="517,243.85 517.76,245.83 520.09,245.87 518.24,247.14 518.91,249.14 517,247.95 515.09,249.14 515.76,247.14 513.91,245.87 516.24,245.83"/>
<polygon points="529.5,246.35 530.26,248.33 532.59,248.37 530.74,249.64 531.41,251.64 529.5,250.45 527.59,251.64 528.26,249.64 526.41,248.37 528.74,248.33"/>
<polygon points="543.3,243.85 544.06,245.83 546.39,245.87 544.54,247.14 545.21,249.14 543.3,247.95 541.39,249.14 542.06,247.14 540.21,245.87 542.54,245.83"/>
<polygon points="557,240.05 557.76,242.03 560.09,242.07 558.24,243.34 558.91,245.34 557,244.15 555.09,245.34 555.76,243.34 553.91,242.07 556.24,242.03"/>
<polygon points="570.9,241.35 571.66,243.33 573.99,243.37 572.14,244.64 572.81,246.64 570.9,245.45 568.99,246.64 569.66,244.64 567.81,243.37 570.14,243.33"/>
<polygon points="584.1,251.55 584.86,253.53 587.19,253.57 585.34,254.84 586.01,256.84 584.1,255.65 582.19,256.84 582.86,254.84 581.01,253.57 583.34,253.53"/>
<polygon points="598.4,261.15 599.16,263.13 601.49,263.17 599.64,264.44 600.31,266.44 598.4,265.25 596.49,266.44 597.16,264.44 595.31,263.17 597.64,263.13"/>
<polygon points="611.6,269.25 612.36,271.23 614.69,271.27 612.84,272.54 613.51,274.54 611.6,273.35 609.69,274.54 610.36,272.54 608.51,271.27 610.84,271.23"/>
<polygon points="625.4,276.25 626.16,278.23 628.49,278.27 626.64,279.54 627.31,281.54 625.4,280.35 623.49,281.54 624.16,279.54 622.31,278.27 624.64,278.23"/>
<polygon points="639.2,283.75 639.96,285.73 642.29,285.77 640.44,287.04 641.11,289.04 639.2,287.85 637.29,289.04 637.96,287.04 636.11,285.77 638.44,285.73"/>
<polygon points="652.4,290.05 653.16,292.03 655.49,292.07 653.64,293.34 654.31,295.34 652.4,294.15 650.49,295.34 651.16,293.34 649.31,292.07 651.64,292.03"/>
<polygon points="666,296.25 666.76,298.23 669.09,298.27 667.24,299.54 667.91,301.54 666,300.35 664.09,301.54 664.76,299.54 662.91,298.27 665.24,298.23"/>
<polygon points="680,305.75 680.76,307.73 683.09,307.77 681.24,309.04 681.91,311.04 680,309.85 678.09,311.04 678.76,309.04 676.91,307.77 679.24,307.73"/>
<polygon points="693.5,312.55 694.26,314.53 696.59,314.57 694.74,315.84 695.41,317.84 693.5,316.65 691.59,317.84 692.26,315.84 690.41,314.57 692.74,314.53"/>
<polygon points="707.3,316.35 708.06,318.33 710.39,318.37 708.54,319.64 709.21,321.64 707.3,320.45 705.39,321.64 706.06,319.64 704.21,318.37 706.54,318.33"/>
</g>
<g fill="none" stroke="#ff4040" stroke-width="0.85">
<polygon points="443.5,70.65 446.64,72.75 445.44,76.14 441.56,76.14 440.36,72.75"/>
<polygon points="454.9,27.45 458.04,29.55 456.84,32.94 452.96,32.94 451.76,29.55"/>
<polygon points="465.8,15.75 468.94,17.85 467.74,21.24 463.86,21.24 462.66,17.85"/>
<polygon points="477.6,8.15 480.74,10.25 479.54,13.64 475.66,13.64 474.46,10.25"/>
<polygon points="489.8,11.05 492.94,13.15 491.74,16.54 487.86,16.54 486.66,13.15"/>
<polygon points="501.1,20.45 504.24,22.55 503.04,25.94 499.16,25.94 497.96,22.55"/>
<polygon points="512.8,31.35 515.94,33.45 514.74,36.84 510.86,36.84 509.66,33.45"/>
<polygon points="524.3,45.05 527.44,47.15 526.24,50.54 522.36,50.54 521.16,47.15"/>
<polygon points="535.8,64.05 538.94,66.15 537.74,69.54 533.86,69.54 532.66,66.15"/>
<polygon points="547,79.15 550.14,81.25 548.94,84.64 545.06,84.64 543.86,81.25"/>
<polygon points="558.8,90.35 561.94,92.45 560.74,95.84 556.86,95.84 555.66,92.45"/>
<polygon points="570.4,101.15 573.54,103.25 572.34,106.64 568.46,106.64 567.26,103.25"/>
<polygon points="581.8,106.35 584.94,108.45 583.74,111.84 579.86,111.84 578.66,108.45"/>
<polygon points="593.4,111.35 596.54,113.45 595.34,116.84 591.46,116.84 590.26,113.45"/>
<polygon points="605,117.35 608.14,119.45 606.94,122.84 603.06,122.84 601.86,119.45"/>
<polygon points="616.5,119.35 619.64,121.45 618.44,124.84 614.56,124.84 613.36,121.45"/>
<polygon points="627.9,122.35 631.04,124.45 629.84,127.84 625.96,127.84 624.76,124.45"/>
<polygon points="639.7,126.05 642.84,128.15 641.64,131.54 637.76,131.54 636.56,128.15"/>
<polygon points="651.2,129.15 654.34,131.25 653.14,134.64 649.26,134.64 648.06,131.25"/>
<polygon points="450,114.25 453.14,116.35 451.94,119.74 448.06,119.74 446.86,116.35"/>
<polygon points="464.8,71.05 467.94,73.15 466.74,76.54 462.86,76.54 461.66,73.15"/>
<polygon points="478.1,59.85 481.24,61.95 480.04,65.34 476.16,65.34 474.96,61.95"/>
<polygon points="492.7,63.05 495.84,65.15 494.64,68.54 490.76,68.54 489.56,65.15"/>
<polygon points="506.9,73.25 510.04,75.35 508.84,78.74 504.96,78.74 503.76,75.35"/>
<polygon points="522,91.15 525.14,93.25 523.94,96.64 520.06,96.64 518.86,93.25"/>
<polygon points="535.8,106.15 538.94,108.25 537.74,111.64 533.86,111.64 532.66,108.25"/>
<polygon points="549.5,131.45 552.64,133.55 551.44,136.94 547.56,136.94 546.36,133.55"/>
<polygon points="564.1,143.15 567.24,145.25 566.04,148.64 562.16,148.64 560.96,145.25"/>
<polygon points="578.4,155.85 581.54,157.95 580.34,161.34 576.46,161.34 575.26,157.95"/>
<polygon points="592.3,162.75 595.44,164.85 594.24,168.24 590.36,168.24 589.16,164.85"/>
<polygon points="606.5,167.95 609.64,170.05 608.44,173.44 604.56,173.44 603.36,170.05"/>
<polygon points="620.9,170.75 624.04,172.85 622.84,176.24 618.96,176.24 617.76,172.85"/>
<polygon points="635.4,173.25 638.54,175.35 637.34,178.74 633.46,178.74 632.26,175.35"/>
<polygon points="649.2,174.95 652.34,177.05 651.14,180.44 647.26,180.44 646.06,177.05"/>
<polygon points="663.5,177.45 666.64,179.55 665.44,182.94 661.56,182.94 660.36,179.55"/>
<polygon points="677.5,179.95 680.64,182.05 679.44,185.44 675.56,185.44 674.36,182.05"/>
<polygon points="691.8,182.45 694.94,184.55 693.74,187.94 689.86,187.94 688.66,184.55"/>
<polygon points="706.1,183.75 709.24,185.85 708.04,189.24 704.16,189.24 702.96,185.85"/>
<polygon points="464.3,143.15 467.44,145.25 466.24,148.64 462.36,148.64 461.16,145.25"/>
<polygon points="478.1,128.55 481.24,130.65 480.04,134.04 476.16,134.04 474.96,130.65"/>
<polygon points="492.7,127.35 495.84,129.45 494.64,132.84 490.76,132.84 489.56,129.45"/>
<polygon points="506.9,132.35 510.04,134.45 508.84,137.84 504.96,137.84 503.76,134.45"/>
<polygon points="521.2,144.85 524.34,146.95 523.14,150.34 519.26,150.34 518.06,146.95"/>
<polygon points="535.3,153.65 538.44,155.75 537.24,159.14 533.36,159.14 532.16,155.75"/>
<polygon points="549.5,163.15 552.64,165.25 551.44,168.64 547.56,168.64 546.36,165.25"/>
<polygon points="564.1,173.65 567.24,175.75 566.04,179.14 562.16,179.14 560.96,175.75"/>
<polygon points="578.4,184.55 581.54,186.65 580.34,190.04 576.46,190.04 575.26,186.65"/>
<polygon points="592.3,192.75 595.44,194.85 594.24,198.24 590.36,198.24 589.16,194.85"/>
<polygon points="606.6,199.15 609.74,201.25 608.54,204.64 604.66,204.64 603.46,201.25"/>
<polygon points="620.9,203.65 624.04,205.75 622.84,209.14 618.96,209.14 617.76,205.75"/>
<polygon points="635.4,208.65 638.54,210.75 637.34,214.14 633.46,214.14 632.26,210.75"/>
<polygon points="649.2,212.85 652.34,214.95 651.14,218.34 647.26,218.34 646.06,214.95"/>
<polygon points="663.5,216.85 666.64,218.95 665.44,222.34 661.56,222.34 660.36,218.95"/>
<polygon points="677.5,222.45 680.64,224.55 679.44,227.94 675.56,227.94 674.36,224.55"/>
<polygon points="691.8,226.65 694.94,228.75 693.74,232.14 689.86,232.14 688.66,228.75"/>
<polygon points="706.1,231.15 709.24,233.25 708.04,236.64 704.16,236.64 702.96,233.25"/>
<polygon points="450,182.35 453.14,184.45 451.94,187.84 448.06,187.84 446.86,184.45"/>
<polygon points="463.8,185.25 466.94,187.35 465.74,190.74 461.86,190.74 460.66,187.35"/>
<polygon points="478.1,176.05 481.24,178.15 480.04,181.54 476.16,181.54 474.96,178.15"/>
<polygon points="492.7,176.75 495.84,178.85 494.64,182.24 490.76,182.24 489.56,178.85"/>
<polygon points="506.9,185.25 510.04,187.35 508.84,190.74 504.96,190.74 503.76,187.35"/>
<polygon points="521.2,197.85 524.34,199.95 523.14,203.34 519.26,203.34 518.06,199.95"/>
<polygon points="535.3,198.65 538.44,200.75 537.24,204.14 533.36,204.14 532.16,200.75"/>
<polygon points="549.5,203.15 552.64,205.25 551.44,208.64 547.56,208.64 546.36,205.25"/>
<polygon points="564.1,211.15 567.24,213.25 566.04,216.64 562.16,216.64 560.96,213.25"/>
<polygon points="578.4,219.95 581.54,222.05 580.34,225.44 576.46,225.44 575.26,222.05"/>
<polygon points="592.3,230.55 595.44,232.65 594.24,236.04 590.36,236.04 589.16,232.65"/>
<polygon points="606.5,237.35 609.64,239.45 608.44,242.84 604.56,242.84 603.36,239.45"/>
<polygon points="620.9,243.65 624.04,245.75 622.84,249.14 618.96,249.14 617.76,245.75"/>
<polygon points="635.4,248.65 638.54,250.75 637.34,254.14 633.46,254.14 632.26,250.75"/>
<polygon points="649.2,253.05 652.34,255.15 651.14,258.54 647.26,258.54 646.06,255.15"/>
<polygon points="663.5,259.35 666.64,261.45 665.44,264.84 661.56,264.84 660.36,261.45"/>
<polygon points="677.5,264.85 680.64,266.95 679.44,270.34 675.56,270.34 674.36,266.95"/>
<polygon points="691.8,269.85 694.94,271.95 693.74,275.34 689.86,275.34 688.66,271.95"/>
<polygon points="706.1,275.65 709.24,277.75 708.04,281.14 704.16,281.14 702.96,277.75"/>
<polygon points="450,224.15 453.14,226.25 451.94,229.64 448.06,229.64 446.86,226.25"/>
<polygon points="450,268.05 453.14,270.15 451.94,273.54 448.06,273.54 446.86,270.15"/>
<polygon points="463.8,231.65 466.94,233.75 465.74,237.14 461.86,237.14 460.66,233.75"/>
<polygon points="478.1,225.65 481.24,227.75 480.04,231.14 476.16,231.14 474.96,227.75"/>
<polygon points="492.7,230.65 495.84,232.75 494.64,236.14 490.76,236.14 489.56,232.75"/>
<polygon points="506.9,238.75 510.04,240.85 508.84,244.24 504.96,244.24 503.76,240.85"/>
<polygon points="521.2,249.95 524.34,252.05 523.14,255.44 519.26,255.44 518.06,252.05"/>
<polygon points="535.3,244.95 538.44,247.05 537.24,250.44 533.36,250.44 532.16,247.05"/>
<polygon points="549.5,243.75 552.64,245.85 551.44,249.24 547.56,249.24 546.36,245.85"/>
<polygon points="564.1,244.95 567.24,247.05 566.04,250.44 562.16,250.44 560.96,247.05"/>
<polygon points="578.4,252.05 581.54,254.15 580.34,257.54 576.46,257.54 575.26,254.15"/>
<polygon points="592.3,263.05 595.44,265.15 594.24,268.54 590.36,268.54 589.16,265.15"/>
<polygon points="606.6,271.85 609.74,273.95 608.54,277.34 604.66,277.34 603.46,273.95"/>
<polygon points="620.9,279.15 624.04,281.25 622.84,284.64 618.96,284.64 617.76,281.25"/>
<polygon points="635.4,286.15 638.54,288.25 637.34,291.64 633.46,291.64 632.26,288.25"/>
<polygon points="649.2,293.65 652.34,295.75 651.14,299.14 647.26,299.14 646.06,295.75"/>
<polygon points="663.5,300.45 666.64,302.55 665.44,305.94 661.56,305.94 660.36,302.55"/>
<polygon points="677.5,307.45 680.64,309.55 679.44,312.94 675.56,312.94 674.36,309.55"/>
<polygon points="691.8,314.45 694.94,316.55 693.74,319.94 689.86,319.94 688.66,316.55"/>
<polygon points="706.1,321.25 709.24,323.35 708.04,326.74 704.16,326.74 702.96,323.35"/>
</g>
<g fill="none" stroke="#ff20ff" stroke-width="0.85">
<polygon points="446.6,63.2 443.7,68.2 449.5,68.2"/>
<polygon points="450.6,91.7 447.7,96.7 453.5,96.7"/>
<polygon points="450.5,157.3 447.6,162.3 453.4,162.3"/>
<polygon points="451.1,203.4 448.2,208.4 454,208.4"/>
<polygon points="451.1,243.2 448.2,248.2 454,248.2"/>
<polygon points="455.7,23 452.8,28 458.6,28"/>
<polygon points="465.3,7.6 462.4,12.6 468.2,12.6"/>
<polygon points="476.7,8.4 473.8,13.4 479.6,13.4"/>
<polygon points="485.1,16 482.2,21 488,21"/>
<polygon points="495.2,21.5 492.3,26.5 498.1,26.5"/>
<polygon points="504.4,33.1 501.5,38.1 507.3,38.1"/>
<polygon points="514.5,45.4 511.6,50.4 517.4,50.4"/>
<polygon points="524.4,57.5 521.5,62.5 527.3,62.5"/>
<polygon points="535.8,70.1 532.9,75.1 538.7,75.1"/>
<polygon points="464.8,65.5 461.9,70.5 467.7,70.5"/>
<polygon points="479.9,64.3 477,69.3 482.8,69.3"/>
<polygon points="494.4,69.6 491.5,74.6 497.3,74.6"/>
<polygon points="508.7,75.8 505.8,80.8 511.6,80.8"/>
<polygon points="523.2,90.1 520.3,95.1 526.1,95.1"/>
<polygon points="537.5,108.9 534.6,113.9 540.4,113.9"/>
<polygon points="552.6,118.2 549.7,123.2 555.5,123.2"/>
<polygon points="567.6,125.8 564.7,130.8 570.5,130.8"/>
<polygon points="581.6,134.8 578.7,139.8 584.5,139.8"/>
<polygon points="596,142.9 593.1,147.9 598.9,147.9"/>
<polygon points="610.2,151.4 607.3,156.4 613.1,156.4"/>
<polygon points="625.4,160.2 622.5,165.2 628.3,165.2"/>
<polygon points="639.7,164.4 636.8,169.4 642.6,169.4"/>
<polygon points="654.2,167.2 651.3,172.2 657.1,172.2"/>
<polygon points="668.7,169.5 665.8,174.5 671.6,174.5"/>
<polygon points="683.5,172.7 680.6,177.7 686.4,177.7"/>
<polygon points="698.1,175.2 695.2,180.2 701,180.2"/>
<polygon points="712.6,177.7 709.7,182.7 715.5,182.7"/>
<polygon points="464.9,131.2 462,136.2 467.8,136.2"/>
<polygon points="479.9,127.6 477,132.6 482.8,132.6"/>
<polygon points="494.4,130.1 491.5,135.1 497.3,135.1"/>
<polygon points="508.7,132.6 505.8,137.6 511.6,137.6"/>
<polygon points="523.2,141.4 520.3,146.4 526.1,146.4"/>
<polygon points="537.5,150.1 534.6,155.1 540.4,155.1"/>
<polygon points="552.6,156.9 549.7,161.9 555.5,161.9"/>
<polygon points="567.6,163.9 564.7,168.9 570.5,168.9"/>
<polygon points="581.6,171.4 578.7,176.4 584.5,176.4"/>
<polygon points="596,179.3 593.1,184.3 598.9,184.3"/>
<polygon points="610.2,187.3 607.3,192.3 613.1,192.3"/>
<polygon points="625.4,195.8 622.5,200.8 628.3,200.8"/>
<polygon points="639.7,201.9 636.8,206.9 642.6,206.9"/>
<polygon points="654.2,205.1 651.3,210.1 657.1,210.1"/>
<polygon points="668.7,210.1 665.8,215.1 671.6,215.1"/>
<polygon points="683.5,213.9 680.6,218.9 686.4,218.9"/>
<polygon points="698.1,218.4 695.2,223.4 701,223.4"/>
<polygon points="712.6,222.7 709.7,227.7 715.5,227.7"/>
<polygon points="464.8,178.2 461.9,183.2 467.7,183.2"/>
<polygon points="479.9,175 477,180 482.8,180"/>
<polygon points="494.4,179.3 491.5,184.3 497.3,184.3"/>
<polygon points="508.7,182.3 505.8,187.3 511.6,187.3"/>
<polygon points="523.2,190.8 520.3,195.8 526.1,195.8"/>
<polygon points="537.5,197.1 534.6,202.1 540.4,202.1"/>
<polygon points="552.6,203.9 549.7,208.9 555.5,208.9"/>
<polygon points="567.6,210.1 564.7,215.1 570.5,215.1"/>
<polygon points="581.5,214.1 578.6,219.1 584.4,219.1"/>
<polygon points="596,220.5 593.1,225.5 598.9,225.5"/>
<polygon points="610.6,226.7 607.7,231.7 613.5,231.7"/>
<polygon points="625.4,232.6 622.5,237.6 628.3,237.6"/>
<polygon points="639.7,238.9 636.8,243.9 642.6,243.9"/>
<polygon points="654.2,243.9 651.3,248.9 657.1,248.9"/>
<polygon points="668.7,249.1 665.8,254.1 671.6,254.1"/>
<polygon points="683.5,253.2 680.6,258.2 686.4,258.2"/>
<polygon points="698.1,259.6 695.2,264.6 701,264.6"/>
<polygon points="712.6,265.1 709.7,270.1 715.5,270.1"/>
<polygon points="464.8,220.2 461.9,225.2 467.7,225.2"/>
<polygon points="479.9,221.4 477,226.4 482.8,226.4"/>
<polygon points="494.4,228.4 491.5,233.4 497.3,233.4"/>
<polygon points="508.7,232.7 505.8,237.7 511.6,237.7"/>
<polygon points="523.2,239.5 520.3,244.5 526.1,244.5"/>
<polygon points="537.5,238.5 534.6,243.5 540.4,243.5"/>
<polygon points="552.6,244 549.7,249 555.5,249"/>
<polygon points="567.6,246.5 564.7,251.5 570.5,251.5"/>
<polygon points="581.6,252.7 578.7,257.7 584.5,257.7"/>
<polygon points="596,256 593.1,261 598.9,261"/>
<polygon points="610.6,261 607.7,266 613.5,266"/>
<polygon points="625.4,265.6 622.5,270.6 628.3,270.6"/>
<polygon points="639.7,272.6 636.8,277.6 642.6,277.6"/>
<polygon points="654.2,279.4 651.3,284.4 657.1,284.4"/>
<polygon points="668.7,286.4 665.8,291.4 671.6,291.4"/>
<polygon points="683.5,293.4 680.6,298.4 686.4,298.4"/>
<polygon points="698.1,298.9 695.2,303.9 701,303.9"/>
<polygon points="712.6,308.2 709.7,313.2 715.5,313.2"/>
</g>
<g fill="none" stroke="#00f0ff" stroke-width="0.85">
<polygon points="459.9,24.5 457,19.5 462.8,19.5"/>
<polygon points="478.4,18.6 475.5,13.6 481.3,13.6"/>
<polygon points="496.4,33.7 493.5,28.7 499.3,28.7"/>
<polygon points="514.5,53.9 511.6,48.9 517.4,48.9"/>
<polygon points="533.3,83.6 530.4,78.6 536.2,78.6"/>
<polygon points="550.8,96.1 547.9,91.1 553.7,91.1"/>
<polygon points="569.6,112.9 566.7,107.9 572.5,107.9"/>
<polygon points="587.5,122.4 584.6,117.4 590.4,117.4"/>
<polygon points="604.4,123.7 601.5,118.7 607.3,118.7"/>
<polygon points="620.5,132.1 617.6,127.1 623.4,127.1"/>
<polygon points="462.3,73.5 459.4,68.5 465.2,68.5"/>
<polygon points="473.6,66.1 470.7,61.1 476.5,61.1"/>
<polygon points="486.1,66.5 483.2,61.5 489,61.5"/>
<polygon points="498.7,69.8 495.8,64.8 501.6,64.8"/>
<polygon points="506.2,77.3 503.3,72.3 509.1,72.3"/>
<polygon points="519.5,89.9 516.6,84.9 522.4,84.9"/>
<polygon points="530,101.6 527.1,96.6 532.9,96.6"/>
<polygon points="542,112.9 539.1,107.9 544.9,107.9"/>
<polygon points="554,126.2 551.1,121.2 556.9,121.2"/>
<polygon points="565.1,136.2 562.2,131.2 568,131.2"/>
<polygon points="576.8,144.9 573.9,139.9 579.7,139.9"/>
<polygon points="587.2,154.9 584.3,149.9 590.1,149.9"/>
<polygon points="600.9,164.9 598,159.9 603.8,159.9"/>
<polygon points="614.7,169.9 611.8,164.9 617.6,164.9"/>
<polygon points="620.9,170.7 618,165.7 623.8,165.7"/>
<polygon points="632.9,169.4 630,164.4 635.8,164.4"/>
<polygon points="644.2,171.2 641.3,166.2 647.1,166.2"/>
<polygon points="655,172.4 652.1,167.4 657.9,167.4"/>
<polygon points="666.7,180 663.8,175 669.6,175"/>
<polygon points="678.5,175 675.6,170 681.4,170"/>
<polygon points="462.5,142.5 459.6,137.5 465.4,137.5"/>
<polygon points="473.6,134.8 470.7,129.8 476.5,129.8"/>
<polygon points="486.1,132.3 483.2,127.3 489,127.3"/>
<polygon points="498.7,134.3 495.8,129.3 501.6,129.3"/>
<polygon points="514.5,142.3 511.6,137.3 517.4,137.3"/>
<polygon points="529.5,150.6 526.6,145.6 532.4,145.6"/>
<polygon points="542,157.4 539.1,152.4 544.9,152.4"/>
<polygon points="554,163.7 551.1,158.7 556.9,158.7"/>
<polygon points="565.1,169.4 562.2,164.4 568,164.4"/>
<polygon points="577.1,176.9 574.2,171.9 580,171.9"/>
<polygon points="587.6,181.2 584.7,176.2 590.5,176.2"/>
<polygon points="589.8,184.8 586.9,179.8 592.7,179.8"/>
<polygon points="602.8,192.5 599.9,187.5 605.7,187.5"/>
<polygon points="615.1,195.5 612.2,190.5 618,190.5"/>
<polygon points="627.9,202.3 625,197.3 630.8,197.3"/>
<polygon points="640.9,207.4 638,202.4 643.8,202.4"/>
<polygon points="653.4,209.1 650.5,204.1 656.3,204.1"/>
<polygon points="666.7,213.6 663.8,208.6 669.6,208.6"/>
<polygon points="679.3,216.9 676.4,211.9 682.2,211.9"/>
<polygon points="691.8,221.1 688.9,216.1 694.7,216.1"/>
<polygon points="705.1,223.7 702.2,218.7 708,218.7"/>
<polygon points="462.3,185 459.4,180 465.2,180"/>
<polygon points="473.6,181.1 470.7,176.1 476.5,176.1"/>
<polygon points="486.1,184.5 483.2,179.5 489,179.5"/>
<polygon points="498.7,188.6 495.8,183.6 501.6,183.6"/>
<polygon points="514.5,197.3 511.6,192.3 517.4,192.3"/>
<polygon points="526.2,206.6 523.3,201.6 529.1,201.6"/>
<polygon points="539.5,208.6 536.6,203.6 542.4,203.6"/>
<polygon points="551.3,209.9 548.4,204.9 554.2,204.9"/>
<polygon points="564.6,209.9 561.7,204.9 567.5,204.9"/>
<polygon points="576.8,214.9 573.9,209.9 579.7,209.9"/>
<polygon points="590,219.9 587.1,214.9 592.9,214.9"/>
<polygon points="602.7,226.9 599.8,221.9 605.6,221.9"/>
<polygon points="615.7,232.9 612.8,227.9 618.6,227.9"/>
<polygon points="627.9,239.2 625,234.2 630.8,234.2"/>
<polygon points="640.9,245.5 638,240.5 643.8,240.5"/>
<polygon points="653.4,249.2 650.5,244.2 656.3,244.2"/>
<polygon points="666.7,254.2 663.8,249.2 669.6,249.2"/>
<polygon points="679.3,258 676.4,253 682.2,253"/>
<polygon points="691.8,262.8 688.9,257.8 694.7,257.8"/>
<polygon points="705.1,266.6 702.2,261.6 708,261.6"/>
<polygon points="462.3,236 459.4,231 465.2,231"/>
<polygon points="473.6,231.2 470.7,226.2 476.5,226.2"/>
<polygon points="486.1,234.4 483.2,229.4 489,229.4"/>
<polygon points="498.7,237.5 495.8,232.5 501.6,232.5"/>
<polygon points="514.5,250 511.6,245 517.4,245"/>
<polygon points="526.2,256.2 523.3,251.2 529.1,251.2"/>
<polygon points="539.5,257.5 536.6,252.5 542.4,252.5"/>
<polygon points="551.3,255 548.4,250 554.2,250"/>
<polygon points="564.6,248.5 561.7,243.5 567.5,243.5"/>
<polygon points="576.8,253.6 573.9,248.6 579.7,248.6"/>
<polygon points="590,260.3 587.1,255.3 592.9,255.3"/>
<polygon points="602.7,267.3 599.8,262.3 605.6,262.3"/>
<polygon points="615.7,276.1 612.8,271.1 618.6,271.1"/>
<polygon points="627.9,283.6 625,278.6 630.8,278.6"/>
<polygon points="640.9,289.9 638,284.9 643.8,284.9"/>
<polygon points="653.4,294.4 650.5,289.4 656.3,289.4"/>
<polygon points="666.7,301.2 663.8,296.2 669.6,296.2"/>
<polygon points="679.3,306.2 676.4,301.2 682.2,301.2"/>
<polygon points="691.8,309.9 688.9,304.9 694.7,304.9"/>
<polygon points="705.1,314.2 702.2,309.2 708,309.2"/>
</g>
<g stroke="#000" fill="none">
<path d="M38.3 0.05V338.4H373.8" stroke-width="1.45"/>
<path d="M38.3 0.85H373.8V339.2" stroke-width="1.7" stroke="#262626"/>
<path d="M100.96 338.4v-7.2M100.96 0.85v7.4M170.96 338.4v-7.2M170.96 0.85v7.4M240.96 338.4v-7.2M240.96 0.85v7.4M310.96 338.4v-7.2M310.96 0.85v7.4M65.96 338.4v-4.1M65.96 0.85v4.2M135.96 338.4v-4.1M135.96 0.85v4.2M205.96 338.4v-4.1M205.96 0.85v4.2M275.96 338.4v-4.1M275.96 0.85v4.2M345.96 338.4v-4.1M345.96 0.85v4.2" stroke-width="1.7" stroke="#1e1e1e"/>
<path d="M38.3 46.25h7.3M373.8 46.25h-7.5M38.3 111.16h7.3M373.8 111.16h-7.5M38.3 176.07h7.3M373.8 176.07h-7.5M38.3 240.99h7.3M373.8 240.99h-7.5M38.3 305.9h7.3M373.8 305.9h-7.5M38.3 13.79h4M373.8 13.79h-4.3M38.3 78.71h4M373.8 78.71h-4.3M38.3 143.62h4M373.8 143.62h-4.3M38.3 208.53h4M373.8 208.53h-4.3M38.3 273.44h4M373.8 273.44h-4.3" stroke-width="1.45"/>
</g>
<g font-family="'Liberation Serif', serif" font-size="13.4px" fill="#000" stroke="#000" stroke-width="0.25">
<text transform="translate(100.96 356.1) scale(1.045 1)" text-anchor="middle">0</text>
<text transform="translate(170.96 356.1) scale(1.045 1)" text-anchor="middle">20</text>
<text transform="translate(240.96 356.1) scale(1.045 1)" text-anchor="middle">40</text>
<text transform="translate(310.96 356.1) scale(1.045 1)" text-anchor="middle">60</text>
<text transform="translate(31 50) scale(1.045 1)" text-anchor="end">0</text>
<text transform="translate(31 114.91) scale(1.045 1)" text-anchor="end">2</text>
<text transform="translate(31 179.82) scale(1.045 1)" text-anchor="end">4</text>
<text transform="translate(31 244.74) scale(1.045 1)" text-anchor="end">6</text>
<text transform="translate(31 309.65) scale(1.045 1)" text-anchor="end">8</text>
</g>
<g stroke="#000" fill="none">
<path d="M430.2 0.05V338.4H765" stroke-width="1.45"/>
<path d="M430.2 0.85H765V339.2" stroke-width="1.7" stroke="#262626"/>
<path d="M482.04 338.4v-7.2M482.04 0.85v7.4M539.79 338.4v-7.2M539.79 0.85v7.4M597.54 338.4v-7.2M597.54 0.85v7.4M655.29 338.4v-7.2M655.29 0.85v7.4M713.04 338.4v-7.2M713.04 0.85v7.4M453.17 338.4v-4.1M453.17 0.85v4.2M510.92 338.4v-4.1M510.92 0.85v4.2M568.66 338.4v-4.1M568.66 0.85v4.2M626.41 338.4v-4.1M626.41 0.85v4.2M684.16 338.4v-4.1M684.16 0.85v4.2M741.91 338.4v-4.1M741.91 0.85v4.2" stroke-width="1.7" stroke="#1e1e1e"/>
<path d="M430.2 61.1h7.3M765 61.1h-7.5M430.2 127.9h7.3M765 127.9h-7.5M430.2 194.7h7.3M765 194.7h-7.5M430.2 261.5h7.3M765 261.5h-7.5M430.2 328.3h7.3M765 328.3h-7.5M430.2 27.7h4M765 27.7h-4.3M430.2 94.5h4M765 94.5h-4.3M430.2 161.3h4M765 161.3h-4.3M430.2 228.1h4M765 228.1h-4.3M430.2 294.9h4M765 294.9h-4.3" stroke-width="1.45"/>
</g>
<g font-family="'Liberation Serif', serif" font-size="13.4px" fill="#000" stroke="#000" stroke-width="0.25">
<text transform="translate(482.04 356.1) scale(1.045 1)" text-anchor="middle">0</text>
<text transform="translate(539.79 356.1) scale(1.045 1)" text-anchor="middle">20</text>
<text transform="translate(597.54 356.1) scale(1.045 1)" text-anchor="middle">40</text>
<text transform="translate(655.29 356.1) scale(1.045 1)" text-anchor="middle">60</text>
<text transform="translate(713.04 356.1) scale(1.045 1)" text-anchor="middle">80</text>
<text transform="translate(423 64.85) scale(1.045 1)" text-anchor="end">-2</text>
<text transform="translate(423 131.65) scale(1.045 1)" text-anchor="end">0</text>
<text transform="translate(423 198.45) scale(1.045 1)" text-anchor="end">2</text>
<text transform="translate(423 265.25) scale(1.045 1)" text-anchor="end">4</text>
<text transform="translate(423 332.05) scale(1.045 1)" text-anchor="end">6</text>
</g>
<g font-family="'Liberation Serif', serif" fill="#000" stroke="#000" stroke-width="0.25">
<text transform="translate(206.2 382.9) scale(1.04 1)" font-size="15.7px" text-anchor="middle">Days after B Maximum</text>
<text transform="translate(589.5 382.9) scale(1.04 1)" font-size="15.7px" text-anchor="middle">Days after B Maximum</text>
<text transform="translate(12.3 180.2) rotate(-90)" font-size="16.7px" text-anchor="middle">Scaled Magnitude</text>
</g>
<g font-family="'Liberation Serif', serif" font-size="13.4px" fill="#3c3c3c">
<text x="312.6" y="167">uvw2</text>
<text x="312.6" y="222.6">uvm2</text>
<text x="312.6" y="319.8">uvw1</text>
</g>
<g font-family="'Liberation Serif', serif" font-size="13.4px" fill="#3c3c3c">
<text x="727.5" y="155">U</text>
<text x="727.5" y="182.6">B</text>
<text x="727.5" y="229.6">V</text>
<text x="727.5" y="278.2">R</text>
<text x="731" y="323.2">I</text>
</g>
<g font-family="'Liberation Serif', serif" font-size="13px" fill="#000" stroke="#000" stroke-width="0.25">
<text x="252.7" y="26.8">12fr</text>
<text x="281.3" y="26.8">Δm<tspan font-size="8px" dy="5.4">15</tspan><tspan dy="-5.4">(B)=0.85</tspan></text>
<text x="252.7" y="48.8">05cf</text>
<text x="279.6" y="48.8">Δm<tspan font-size="8px" dy="5.4">15</tspan><tspan dy="-5.4">(B)=1.05</tspan></text>
<text x="252.7" y="70.3">11fe</text>
<text x="279.6" y="70.3">Δm<tspan font-size="8px" dy="5.4">15</tspan><tspan dy="-5.4">(B)=1.06</tspan></text>
<text x="252.7" y="91.9">09ig</text>
<text x="279.6" y="91.9">Δm<tspan font-size="8px" dy="5.4">15</tspan><tspan dy="-5.4">(B)=1.05</tspan></text>
<text x="252.7" y="113.6">07S</text>
<text x="279.6" y="113.6">Δm<tspan font-size="8px" dy="5.4">15</tspan><tspan dy="-5.4">(B)=0.84</tspan></text>
</g>
<path d="M218 22.6H226.4M238.6 22.6H247.2" stroke="#000" stroke-width="1" stroke-dasharray="3.4 1.7" fill="none"/>
<circle cx="233.6" cy="22.6" r="3.1" fill="#000"/>
<g fill="none" stroke="#2a2aff" stroke-width="0.85"><polygon points="233.6,41.85 234.36,43.83 236.69,43.87 234.84,45.14 235.51,47.14 233.6,45.95 231.69,47.14 232.36,45.14 230.51,43.87 232.84,43.83"/></g>
<g fill="none" stroke="#ff4040" stroke-width="0.85"><polygon points="233.6,63.15 236.74,65.25 235.54,68.64 231.66,68.64 230.46,65.25"/></g>
<g fill="none" stroke="#ff20ff" stroke-width="0.85"><polygon points="233.6,84.9 230.7,89.9 236.5,89.9"/></g>
<g fill="none" stroke="#00f0ff" stroke-width="0.85"><polygon points="233.6,112.5 230.7,107.5 236.5,107.5"/></g>
</svg>
</body></html>
